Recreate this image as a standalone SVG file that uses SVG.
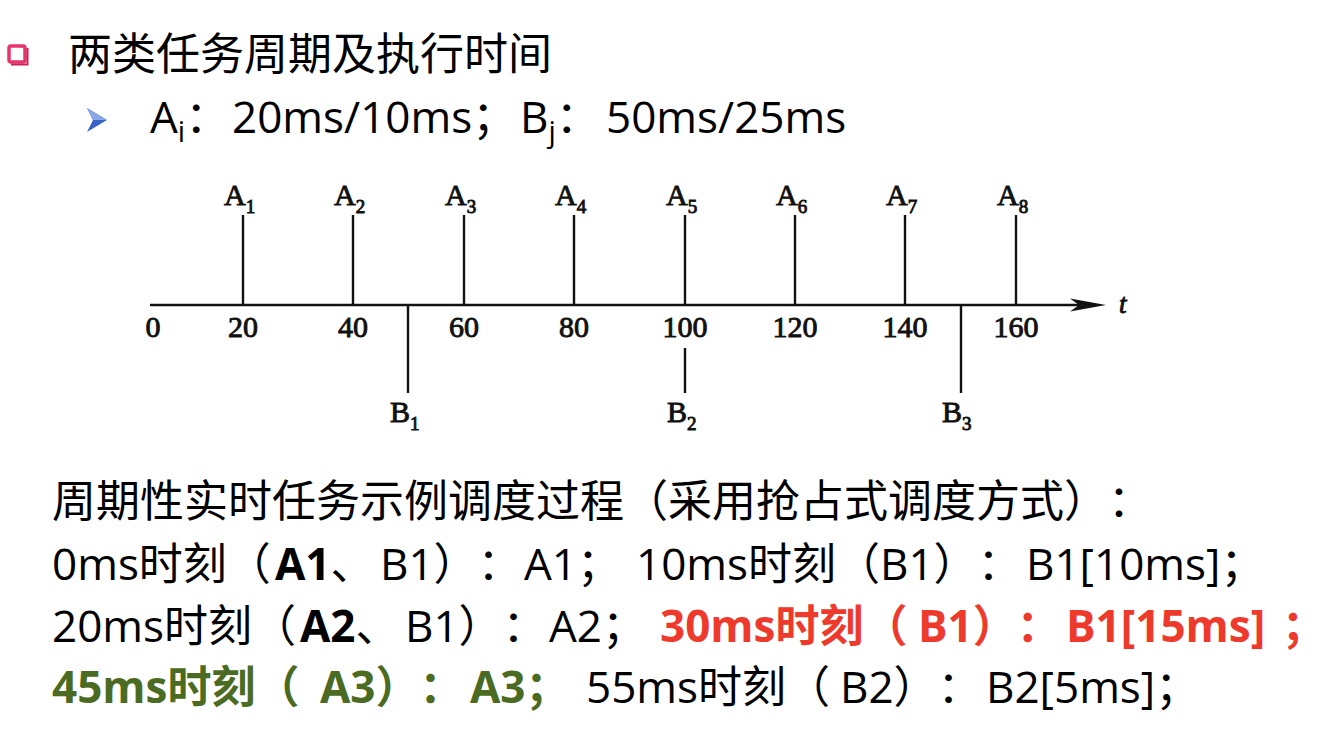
<svg xmlns="http://www.w3.org/2000/svg" width="1336" height="730" viewBox="0 0 1336 730">
<style>
.cn{font-family:"Open Sans","Noto Sans CJK SC",sans-serif;fill:#000;font-size:44px;text-spacing-trim:space-all}
.ser{font-family:"Liberation Serif","Times New Roman",serif;fill:#111;stroke:#111;stroke-width:0.9}
.lab{font-size:30px}
.sub{font-size:19px}
.num{font-size:30px;text-anchor:middle}
.tick{stroke:#111;stroke-width:2.4;fill:none}
.b{font-weight:bold}
.red{fill:#ee3a2c}
.grn{fill:#4b6b22}
</style>
<rect width="1336" height="730" fill="#fff"/>
<g id="bullet1">
<rect x="9" y="46" width="16" height="16" rx="2" fill="none" stroke="#e8336c" stroke-width="3.5"/>
<path d="M11 64.5 H27.5 V48" fill="none" stroke="#c9245a" stroke-width="2"/>
</g>
<g id="bullet2">
<path d="M87 108 L107 120 L87 132 L93 120 Z" fill="#3a63c8"/>
<path d="M87 108 L107 120 L93 120 Z" fill="#8aa6e6"/>
</g>
<text class="cn" x="68" y="70">两类任务周期及执行时间</text>
<text class="cn" x="150" y="133">A<tspan font-size="29" dy="9">i</tspan><tspan dy="-9">：</tspan><tspan x="232">20ms/10ms；</tspan><tspan x="520">B</tspan><tspan font-size="29" dy="9">j</tspan><tspan dy="-9">：</tspan><tspan x="606">50ms/25ms</tspan></text>

<g id="connectors">
<line x1="150" y1="305" x2="1080" y2="305" class="tick"/>
<path d="M1106 305 L1070 298.5 L1079 305 L1070 311.5 Z" fill="#111"/>
</g>
<text class="ser" x="1119" y="313" font-size="27" font-style="italic">t</text>

<g id="ticks-labels">
<text class="ser num" x="153" y="337">0</text>
<text class="ser num" x="243" y="337">20</text>
<text class="ser num" x="353" y="337">40</text>
<text class="ser num" x="464" y="337">60</text>
<text class="ser num" x="574" y="337">80</text>
<text class="ser num" x="685" y="337">100</text>
<text class="ser num" x="795" y="337">120</text>
<text class="ser num" x="905" y="337">140</text>
<text class="ser num" x="1016" y="337">160</text>
</g>

<g id="A1"><line class="tick" x1="243" y1="215" x2="243" y2="305"/><text class="ser lab" x="224" y="205">A<tspan class="sub" dy="8">1</tspan></text></g>
<g id="A2"><line class="tick" x1="353" y1="215" x2="353" y2="305"/><text class="ser lab" x="334" y="205">A<tspan class="sub" dy="8">2</tspan></text></g>
<g id="A3"><line class="tick" x1="464" y1="215" x2="464" y2="305"/><text class="ser lab" x="445" y="205">A<tspan class="sub" dy="8">3</tspan></text></g>
<g id="A4"><line class="tick" x1="574" y1="215" x2="574" y2="305"/><text class="ser lab" x="555" y="205">A<tspan class="sub" dy="8">4</tspan></text></g>
<g id="A5"><line class="tick" x1="685" y1="215" x2="685" y2="305"/><text class="ser lab" x="666" y="205">A<tspan class="sub" dy="8">5</tspan></text></g>
<g id="A6"><line class="tick" x1="795" y1="215" x2="795" y2="305"/><text class="ser lab" x="776" y="205">A<tspan class="sub" dy="8">6</tspan></text></g>
<g id="A7"><line class="tick" x1="905" y1="215" x2="905" y2="305"/><text class="ser lab" x="886" y="205">A<tspan class="sub" dy="8">7</tspan></text></g>
<g id="A8"><line class="tick" x1="1016" y1="215" x2="1016" y2="305"/><text class="ser lab" x="997" y="205">A<tspan class="sub" dy="8">8</tspan></text></g>

<g id="B1"><line class="tick" x1="408" y1="305" x2="408" y2="393"/><text class="ser lab" x="390" y="422">B<tspan class="sub" dy="8">1</tspan></text></g>
<g id="B2"><line class="tick" x1="685" y1="348" x2="685" y2="393"/><text class="ser lab" x="667" y="422">B<tspan class="sub" dy="8">2</tspan></text></g>
<g id="B3"><line class="tick" x1="961" y1="305" x2="961" y2="393"/><text class="ser lab" x="942" y="422">B<tspan class="sub" dy="8">3</tspan></text></g>

<text class="cn" x="52" y="517">周期性实时任务示例调度过程<tspan x="624">（</tspan><tspan x="668">采用抢占式调度方式</tspan><tspan x="1064">）</tspan><tspan x="1108">：</tspan></text>
<text class="cn" x="52" y="580">0ms时刻（<tspan class="b" x="275">A1</tspan>、<tspan x="380">B1</tspan>）：<tspan x="524">A1</tspan>；<tspan x="636">10ms时刻</tspan>（<tspan x="880">B1</tspan>）：<tspan x="1026">B1[10ms]</tspan>；</text>
<text class="cn" x="52" y="642">20ms时刻（<tspan class="b" x="300">A2</tspan>、<tspan x="405">B1</tspan>）：<tspan x="549">A2</tspan>；<tspan class="b red" x="660">30ms时刻（</tspan><tspan class="b red" x="918">B1）：</tspan><tspan class="b red" x="1066">B1[15ms]</tspan><tspan class="b red" x="1282">；</tspan></text>
<text class="cn" x="52" y="703"><tspan class="b grn">45ms时刻（</tspan><tspan class="b grn" x="320">A3）：</tspan><tspan class="b grn" x="470">A3；</tspan><tspan x="586">55ms时刻（</tspan><tspan x="840">B2</tspan>）：<tspan x="986">B2[5ms]</tspan>；</text>
</svg>
